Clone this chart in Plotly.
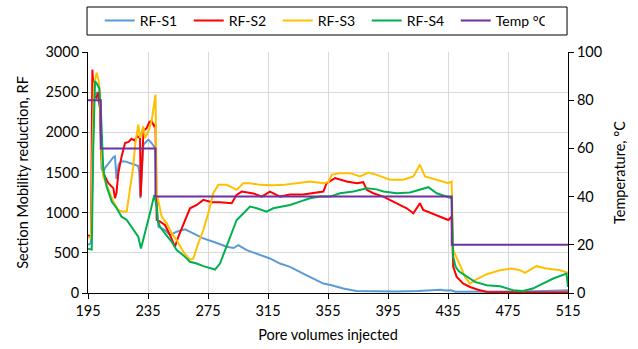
import plotly.graph_objects as go

# Pore volumes injected (x) and section mobility reduction (RF) per section
s1_x = [195, 197, 198, 199, 201, 203, 204, 205.2, 206.3, 209.7, 211.9, 213, 214, 215.5, 217, 219.7,
        223, 226.3, 228.5, 229.2, 229.9, 231.9, 235.2, 237.4, 239.7, 240.5, 241.9, 246.3, 249.7,
        254.1, 259.7, 265.2, 271.9, 278.5, 287.5, 292, 295.2, 300.8, 309.7, 316.3, 323, 329.7,
        338.5, 345.2, 351.9, 357.4, 365.2, 373.9, 385, 400, 415, 425, 430, 433, 437, 440, 460,
        480, 500, 515]
s1_y = [600, 620, 1500, 2450, 2500, 2300, 1550, 1500, 1555, 1638, 1690, 1700, 1420, 1600, 1640, 1638,
        1620, 1596, 1580, 1500, 1180, 1846, 1909, 1867, 1805, 1200, 825, 784, 721,
        763, 792, 742, 680, 638, 575, 560, 596, 534, 471, 430, 367, 325,
        242, 180, 117, 96, 55, 25, 20, 20, 25, 30, 40, 30, 35, 15, 15,
        20, 25, 34]

s2_x = [195, 197, 197.9, 199, 200.5, 202, 203, 204, 205.2, 208.6, 211.9, 213, 214, 215.2, 217.4,
        219.7, 222, 224, 226, 228, 229.7, 230.1, 230.8, 232, 234, 236, 237.4, 239, 240, 240.8,
        243, 246.3, 249.7, 253, 255.2, 258.5, 263, 267.5, 271.9, 277.5, 283, 290.8, 294,
        297.5, 305.2, 310.8, 316.3, 323, 329.7, 338.5, 345.2, 351.9, 354.1, 359.7, 367.5, 374.1,
        378.5, 380.8, 385.2, 391.9, 400.8, 407.5, 411.9, 416.3, 418.5, 427.5, 435.2, 437.4,
        438.5, 440.8, 445.2, 449.7, 455, 461, 480, 500, 515]
s2_y = [720, 700, 2780, 2450, 2430, 2500, 2300, 1700, 1490, 1367, 1305, 1180, 1250, 1490, 1700,
        1867, 1880, 1920, 1900, 1950, 1930, 1200, 1500, 2020, 2050, 2130, 2140, 2080, 2100, 909,
        888, 846, 720, 575, 700, 846, 1055, 1096, 1159, 1130, 1130, 1117, 1221,
        1263, 1240, 1200, 1263, 1200, 1225, 1225, 1240, 1263, 1367, 1430, 1388, 1367,
        1380, 1284, 1242, 1200, 1117, 1055, 992, 1117, 1034, 971, 909, 950,
        325, 200, 117, 75, 40, 12, 5, 5, 10]

s3_x = [195, 197, 198, 199, 200.8, 202, 203, 204, 205.2, 207.5, 209.7, 211.9, 215.2, 217.4, 220.8,
        223, 225.2, 226.3, 228.5, 229.7, 231.9, 233, 235.2, 237.4, 240, 240.8, 244.1, 247.5,
        250.8, 254.1, 258.5, 263, 265.2, 268.5, 271.9, 275.2, 278.5, 281.9, 287.5, 294.1,
        298.5, 303, 309.7, 318.5, 325.2, 334.1, 343, 351.9, 355.2, 357.4, 363, 369.7, 376.3,
        381.9, 387.5, 396.3, 405.2, 411.9, 416.3, 419.7, 427.5, 435.2, 437.4, 438.5, 443,
        446.3, 449.7, 453, 460.8, 469.7, 477.5, 483, 486.3, 493.9, 500.6, 509.7, 515]
s3_y = [700, 680, 1800, 2600, 2742, 2650, 2500, 1700, 1450, 1350, 1242, 1138, 1034, 1013, 1013,
        1284, 1575, 1825, 2096, 1930, 2075, 1930, 2010, 2140, 2470, 1242, 950, 867,
        742, 659, 513, 415, 430, 617, 784, 992, 1242, 1346, 1346, 1284,
        1367, 1367, 1346, 1340, 1346, 1367, 1388, 1367, 1380, 1471, 1492, 1492, 1450,
        1500, 1471, 1409, 1409, 1450, 1596, 1450, 1409, 1367, 1388, 534, 346,
        200, 117, 159, 234, 284, 305, 284, 250, 334, 305, 284, 250]

s4_x = [195, 197.5, 198.5, 199.7, 201, 202.5, 203.5, 205.2, 207.4, 210.8, 214.1, 217.4, 220.8,
        224.1, 228.5, 230.3, 233, 236.3, 239.2, 240.8, 241.4, 243, 246.3, 250.8, 254.1, 258.5,
        263, 267.5, 271.9, 276.3, 279.7, 283, 286.3, 289.7, 294.1, 297.5, 303, 307.5, 314.1,
        318.5, 323, 329.7, 336.3, 343, 349.7, 356.3, 363, 371.9, 380.8, 387.5, 391.9, 400.8,
        409.7, 415.2, 421.9, 427.5, 435.2, 437.4, 438.5, 440, 442.2, 447.8, 453, 460.8, 469.7,
        478.5, 485, 491.5, 498.5, 505.2, 514, 515]
s4_y = [550, 540, 1800, 2638, 2600, 2550, 2300, 1534, 1325, 1138, 1055, 950, 909,
        825, 700, 554, 742, 992, 1221, 1075, 909, 825, 742, 638, 534, 471,
        388, 367, 334, 305, 292, 367, 534, 700, 909, 971, 1075, 1055, 1013,
        1055, 1075, 1096, 1138, 1180, 1200, 1200, 1242, 1263, 1305, 1290, 1263, 1242,
        1250, 1284, 1317, 1242, 1200, 1180, 450, 330, 270, 200, 138, 96, 84,
        34, 25, 55, 117, 180, 242, 75]

# Temperature steps (°C), each value held until the next x
temp_x = [195, 203.5, 240, 437.5, 515]
temp_y = [80, 60, 40, 20, 20]

x_ticks = [195, 235, 275, 315, 355, 395, 435, 475, 515]

FONT = "Lato"
series = [
    ("RF-S1", s1_x, s1_y, "#5B9BD5"),
    ("RF-S2", s2_x, s2_y, "#FF0000"),
    ("RF-S3", s3_x, s3_y, "#FFC000"),
    ("RF-S4", s4_x, s4_y, "#00B050"),
]

fig = go.Figure()
for name, xs, ys, color in series:
    fig.add_trace(go.Scatter(x=xs, y=ys, name=name, mode="lines",
                             line=dict(color=color, width=2)))
fig.add_trace(go.Scatter(x=temp_x, y=temp_y, name="Temp °C", mode="lines", yaxis="y2",
                         line=dict(color="#7030A0", width=2, shape="hv")))

H_PLOT = 241.0
def py(p):
    return (293 - p) / H_PLOT

# legend frame
fig.add_shape(type="rect", xref="paper", yref="paper",
              x0=-0.002, x1=0.998, y0=py(35), y1=py(7),
              line=dict(color="black", width=1), fillcolor="white", layer="below")

fig.update_layout(
    width=638, height=349,
    margin=dict(l=88, r=70, t=52, b=56, autoexpand=False),
    paper_bgcolor="white", plot_bgcolor="white",
    font=dict(family=FONT, size=14.5, color="black"),
    showlegend=True,
    legend=dict(orientation="h", x=0.488, xanchor="center", y=py(21), yanchor="middle",
                bgcolor="rgba(0,0,0,0)", borderwidth=0, font=dict(size=14),
                entrywidth=44, entrywidthmode="pixels", traceorder="normal"),
    xaxis=dict(range=[195, 515], tickvals=x_ticks, showgrid=True, gridcolor="#D9D9D9",
               gridwidth=1, showline=True, linecolor="black", linewidth=1,
               ticks="outside", ticklen=5, tickcolor="black", zeroline=False,
               tickfont=dict(size=14.5), automargin=False,
               title=dict(text="Pore volumes injected", font=dict(size=14.5), standoff=11)),
    yaxis=dict(range=[0, 3000], dtick=500, showgrid=True, gridcolor="#D9D9D9", gridwidth=1,
               showline=True, linecolor="black", linewidth=1, ticks="outside", ticklen=5,
               tickcolor="black", zeroline=False, tickfont=dict(size=14.5), automargin=False,
               title=dict(text="Section Mobility reduction, RF", font=dict(size=14.5), standoff=13)),
    yaxis2=dict(range=[0, 100], dtick=20, overlaying="y", side="right", showgrid=False,
                showline=True, linecolor="black", linewidth=1, ticks="outside", ticklen=5,
                tickcolor="black", zeroline=False, tickfont=dict(size=14.5), automargin=False,
                title=dict(text="Temperature, °C", font=dict(size=14.5), standoff=13)),
)

fig.write_html("out.html")
